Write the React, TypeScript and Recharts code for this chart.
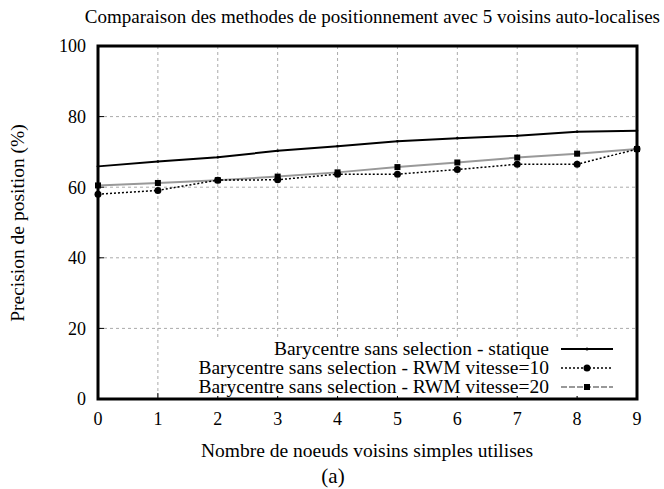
import React from 'react'
import { LineChart, Line, CartesianGrid, XAxis, YAxis, ReferenceArea } from 'recharts'

// nombre de noeuds voisins (axe x)
const voisins = [0, 1, 2, 3, 4, 5, 6, 7, 8, 9]
// precision de position (%)
const statique = [65.9, 67.3, 68.5, 70.3, 71.6, 73.0, 73.9, 74.6, 75.7, 76.0]
const rwm10 = [58.0, 59.1, 62.0, 62.1, 63.7, 63.7, 65.0, 66.5, 66.5, 70.8]
const rwm20 = [60.5, 61.2, 62.0, 63.0, 64.2, 65.7, 67.0, 68.4, 69.5, 70.8]
const yTicks = [0, 20, 40, 60, 80, 100]

const names: Record<string, string> = {
  statique: 'Barycentre sans selection - statique',
  rwm10: 'Barycentre sans selection - RWM vitesse=10',
  rwm20: 'Barycentre sans selection - RWM vitesse=20',
}
const legendOrder = ['statique', 'rwm10', 'rwm20']

const data = voisins.map((v, i) => ({ x: v, statique: statique[i], rwm10: rwm10[i], rwm20: rwm20[i] }))

const FONT = '"Liberation Serif", "DejaVu Serif", serif'

const Square = (props: any) => {
  const { cx, cy, index } = props
  if (cx == null || cy == null) return <g key={index} />
  return <rect key={index} x={cx - 3} y={cy - 3} width={6} height={6} fill="#000" />
}

const Sample = ({ k }: { k: string }) => {
  if (k === 'statique')
    return (
      <svg width={52} height={10}>
        <line x1={0} y1={5} x2={52} y2={5} stroke="#000" strokeWidth={2} />
        <circle cx={26} cy={5} r={1.5} fill="#000" />
      </svg>
    )
  if (k === 'rwm10')
    return (
      <svg width={52} height={10}>
        <line x1={0} y1={5} x2={52} y2={5} stroke="#000" strokeWidth={1.5} strokeDasharray="2 2" />
        <circle cx={26} cy={5} r={3.5} fill="#000" />
      </svg>
    )
  return (
    <svg width={52} height={10}>
      <line x1={0} y1={5} x2={52} y2={5} stroke="#999" strokeWidth={2} strokeDasharray="6 2" />
      <rect x={23} y={2} width={6} height={6} fill="#000" />
    </svg>
  )
}

const Key = () => (
  <div style={{ position: 'absolute', left: 190, top: 339, width: 442, background: '#fff' }}>
    {legendOrder.map((k) => (
      <div
        key={k}
        style={{ display: 'flex', justifyContent: 'flex-end', alignItems: 'center', height: 19, fontFamily: FONT, fontSize: 19.5, color: '#000', lineHeight: '19px' }}
      >
        <span>{names[k]}</span>
        <span style={{ width: 12 }} />
        <Sample k={k} />
        <span style={{ width: 19 }} />
      </div>
    ))}
  </div>
)

export default function App() {
  return (
    <div style={{ position: 'absolute', left: 0, top: 0, width: 664, height: 489, background: '#fff' }}>
      <LineChart width={664} height={489} data={data} margin={{ top: 46, right: 27, bottom: 0, left: 0 }} style={{ fontFamily: FONT }}>
        <CartesianGrid stroke="#aaa" strokeDasharray="3 3" />
        <XAxis
          dataKey="x"
          type="number"
          domain={[0, 9]}
          ticks={voisins}
          height={90}
          axisLine={false}
          tickSize={-6}
          tickMargin={19}
          tickLine={{ stroke: '#000' }}
          tick={{ fontSize: 18, fill: '#000', fontFamily: FONT }}
        />
        <YAxis
          type="number"
          domain={[0, 100]}
          ticks={yTicks}
          width={98}
          axisLine={false}
          tickSize={-6}
          tickMargin={18}
          tickLine={{ stroke: '#000' }}
          tick={{ fontSize: 18, fill: '#000', fontFamily: FONT }}
        />
        <Line dataKey="rwm20" name={names.rwm20} stroke="#999" strokeWidth={2} dot={Square} isAnimationActive={false} />
        <Line dataKey="rwm10" name={names.rwm10} stroke="#000" strokeWidth={1.5} strokeDasharray="2 2" dot={{ r: 3.5, fill: '#000', stroke: '#000', strokeWidth: 0 }} isAnimationActive={false} />
        <Line dataKey="statique" name={names.statique} stroke="#000" strokeWidth={2} dot={{ r: 1.3, fill: '#000', stroke: '#000', strokeWidth: 0 }} isAnimationActive={false} />
        <ReferenceArea x1={0} x2={9} y1={0} y2={100} fill="none" stroke="#000" strokeWidth={3} ifOverflow="visible" />
      </LineChart>
      <Key />
      <svg width={664} height={489} style={{ position: 'absolute', left: 0, top: 0, pointerEvents: 'none' }} fontFamily={FONT} fill="#000">
        <text x={660} y={23} textAnchor="end" fontSize={19}>
          Comparaison des methodes de positionnement avec 5 voisins auto-localises
        </text>
        <text x={0} y={0} transform="translate(24 223) rotate(-90)" textAnchor="middle" fontSize={19.5}>
          Precision de position (%)
        </text>
        <text x={367} y={457} textAnchor="middle" fontSize={19.5}>
          Nombre de noeuds voisins simples utilises
        </text>
        <text x={333} y={483} textAnchor="middle" fontSize={21}>
          (a)
        </text>
      </svg>
    </div>
  )
}
